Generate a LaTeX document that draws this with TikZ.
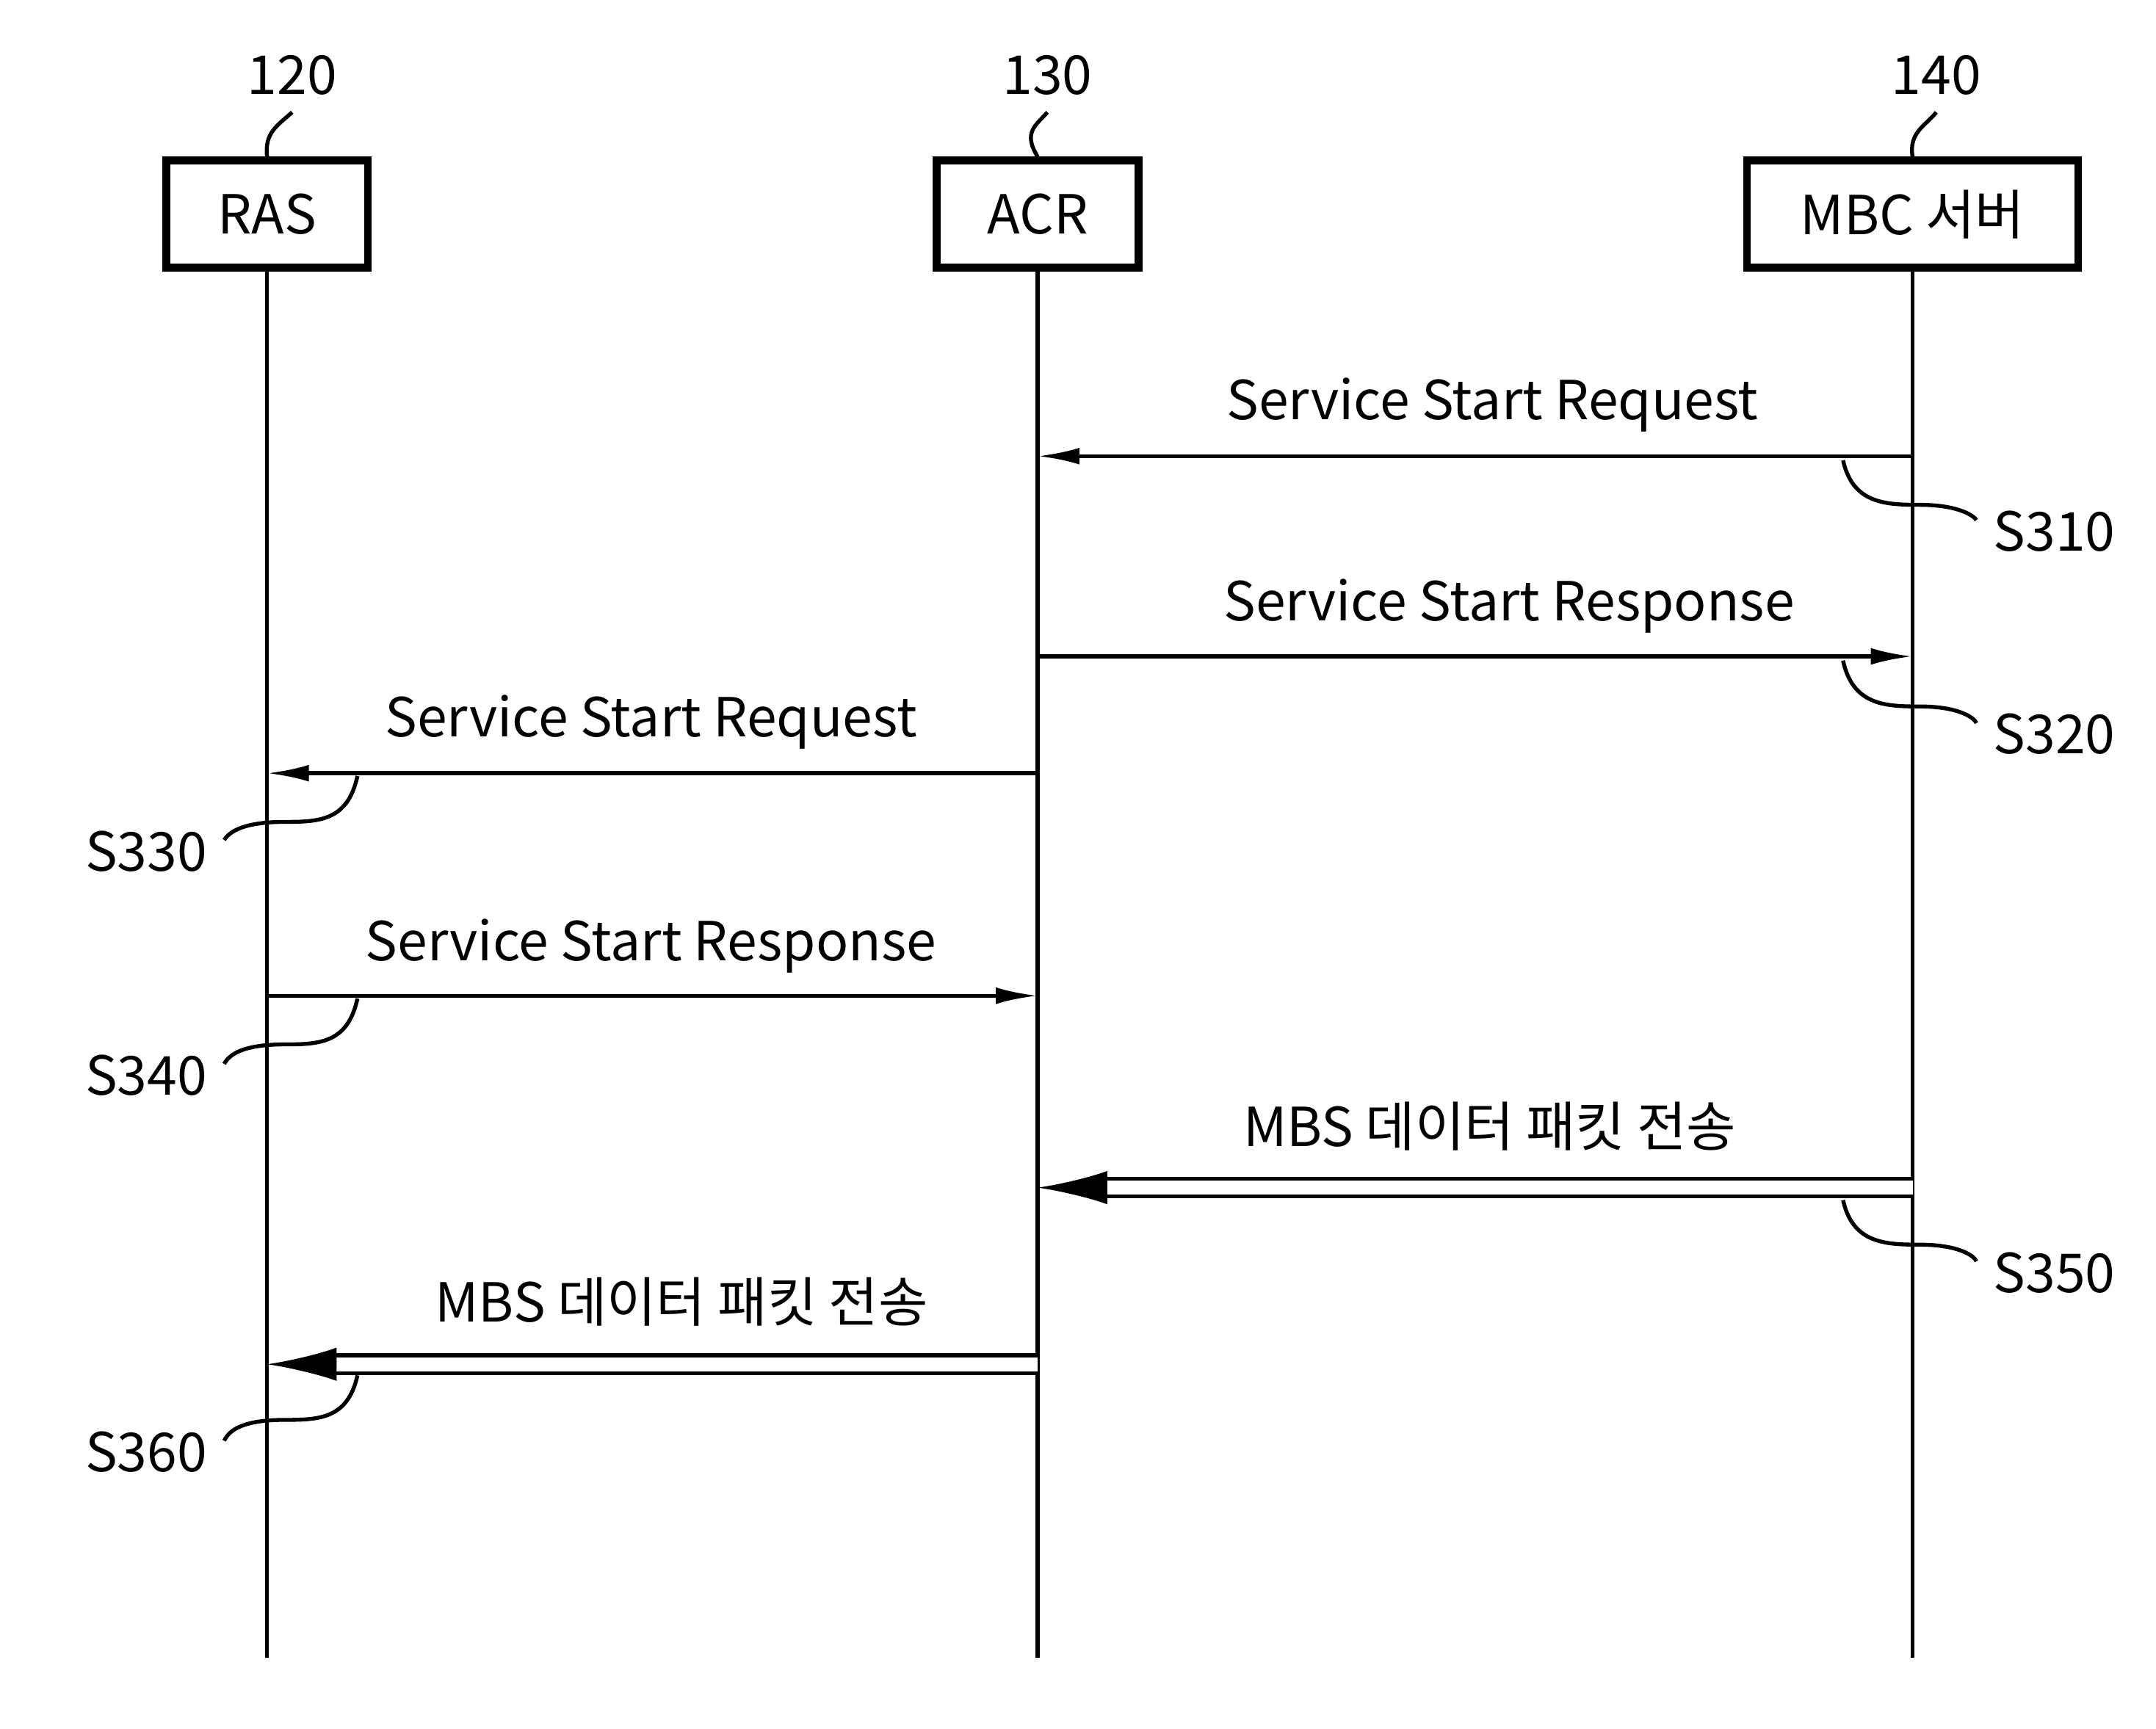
\documentclass[tikz,border=0pt]{standalone}
\usepackage{fontspec}
\setmainfont{Noto Sans CJK KR}
\usetikzlibrary{arrows.meta}
\tikzset{
  ent/.style={rectangle, draw, line width=1.6pt, minimum width=1.45cm, minimum height=0.77cm, font=\fontsize{11}{13}\selectfont},
  life/.style={line width=0.8pt},
  msg/.style={line width=0.8pt, -{Latex[length=0.3cm,width=0.12cm]}},
  dmsg/.style={double, line width=0.8pt, double distance=0.1cm, -{Latex[length=0.5cm,width=0.24cm]}},
  lbl/.style={font=\fontsize{11}{13}\selectfont},
  tag/.style={font=\fontsize{11}{13}\selectfont},
  sq/.style={line width=0.8pt}
}
\begin{document}
\begin{tikzpicture}[x=0.01cm, y=-0.01cm]
  \useasboundingbox (0,0) rectangle (1550,1243);
  % entities
  \node (ras) [ent] at (192,154) {RAS};
  \node (acr) [ent] at (746,154) {ACR};
  \node (mbc) [ent, minimum width=2.38cm] at (1375,154) {MBC 서버};
  \node (n120) [tag] at (210,54) {120};
  \node (n130) [tag] at (753,54) {130};
  \node (n140) [tag] at (1392,54) {140};
  \draw[sq] (n120.south) .. controls (200,90) and (190,95) .. (ras.north);
  \draw[sq] (n130.south) .. controls (745,90) and (735,95) .. (acr.north);
  \draw[sq] (n140.south) .. controls (1385,90) and (1372,95) .. (mbc.north);
  % lifelines
  \coordinate (rasE) at (192,1192);
  \coordinate (acrE) at (746,1192);
  \coordinate (mbcE) at (1375,1192);
  \draw[life] (ras) -- (rasE);
  \draw[life] (acr) -- (acrE);
  \draw[life] (mbc) -- (mbcE);
  % messages
  \coordinate (m1a) at (1375,328); \coordinate (m1b) at (746,328);
  \draw[msg] (m1a) -- (m1b);
  \node (l1) [lbl] at (1073,291) {Service Start Request};
  \coordinate (m2a) at (746,472); \coordinate (m2b) at (1375,472);
  \draw[msg] (m2a) -- (m2b);
  \node (l2) [lbl] at (1085,436) {Service Start Response};
  \coordinate (m3a) at (746,556); \coordinate (m3b) at (192,556);
  \draw[msg] (m3a) -- (m3b);
  \node (l3) [lbl] at (468,519) {Service Start Request};
  \coordinate (m4a) at (192,716); \coordinate (m4b) at (746,716);
  \draw[msg] (m4a) -- (m4b);
  \node (l4) [lbl] at (468,680) {Service Start Response};
  \coordinate (m5a) at (1375,854); \coordinate (m5b) at (746,854);
  \draw[dmsg] (m5a) -- (m5b);
  \node (l5) [lbl] at (1071,810) {MBS 데이터 패킷 전송};
  \coordinate (m6a) at (746,981); \coordinate (m6b) at (192,981);
  \draw[dmsg] (m6a) -- (m6b);
  \node (l6) [lbl] at (490,936) {MBS 데이터 패킷 전송};
  % step tags
  \node (s310) [tag] at (1477,382) {S310};
  \node (s320) [tag] at (1477,528) {S320};
  \node (s330) [tag] at (105,612) {S330};
  \node (s340) [tag] at (105,773) {S340};
  \node (s350) [tag] at (1477,915) {S350};
  \node (s360) [tag] at (105,1044) {S360};
  \draw[sq] (1325,331) .. controls (1332,362) and (1355,363) .. (1380,363) .. controls (1410,363) and (1420,372) .. ([yshift=0.08cm]s310.west);
  \draw[sq] (1325,475) .. controls (1332,507) and (1355,508) .. (1380,508) .. controls (1410,508) and (1420,517) .. ([yshift=0.08cm]s320.west);
  \draw[sq] (1325,863) .. controls (1332,894) and (1355,895) .. (1380,895) .. controls (1410,895) and (1420,904) .. ([yshift=0.08cm]s350.west);
  \draw[sq] (257,558) .. controls (250,590) and (230,591) .. (205,591) .. controls (175,591) and (165,598) .. ([yshift=0.08cm]s330.east);
  \draw[sq] (257,718) .. controls (250,750) and (230,751) .. (205,751) .. controls (175,751) and (165,758) .. ([yshift=0.08cm]s340.east);
  \draw[sq] (257,989) .. controls (250,1020) and (230,1021) .. (205,1021) .. controls (175,1021) and (165,1028) .. ([yshift=0.08cm]s360.east);
\end{tikzpicture}
\end{document}
